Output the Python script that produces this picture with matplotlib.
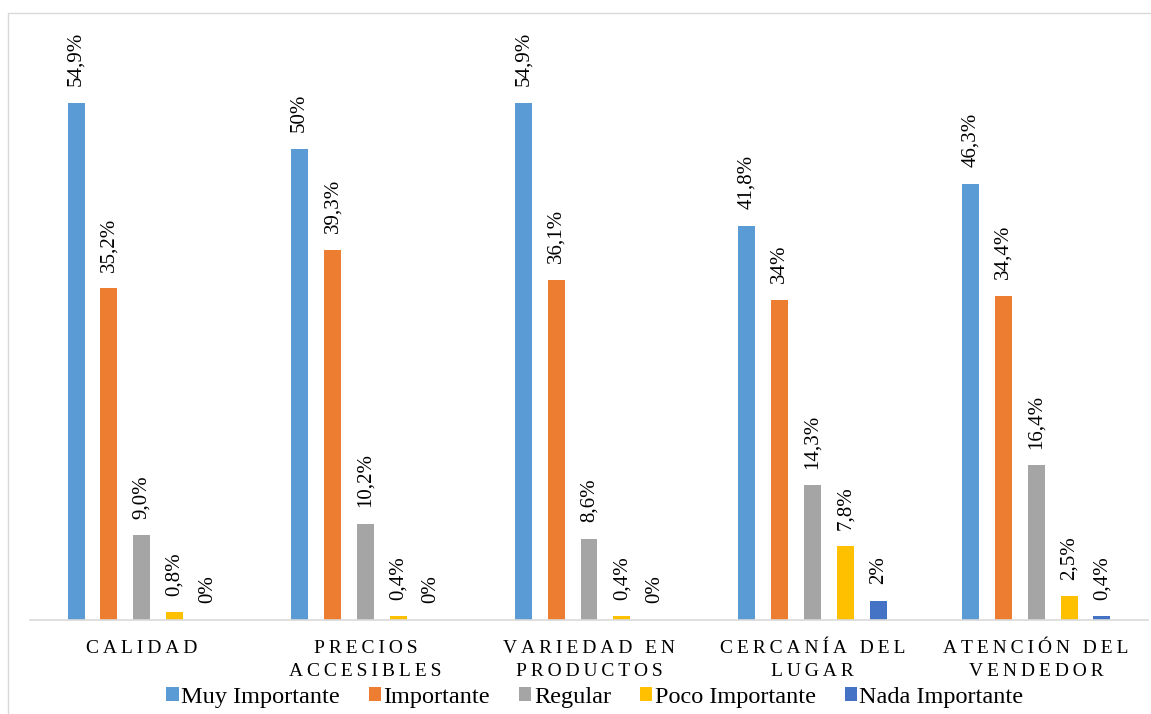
import numpy as np
import matplotlib.pyplot as plt
from matplotlib.patches import Rectangle

categories = ['CALIDAD', 'PRECIOS\nACCESIBLES', 'VARIEDAD EN\nPRODUCTOS', 'CERCANÍA DEL\nLUGAR', 'ATENCIÓN DEL\nVENDEDOR']
series = ['Muy Importante', 'Importante', 'Regular', 'Poco Importante', 'Nada Importante']
muy = [54.9, 50.0, 54.9, 41.8, 46.3]
imp = [35.2, 39.3, 36.1, 34.0, 34.4]
reg = [9.0, 10.2, 8.6, 14.3, 16.4]
poco = [0.8, 0.4, 0.4, 7.8, 2.5]
nada = [0.0, 0.0, 0.0, 2.0, 0.4]
muy_lbl = ['54,9%', '50%', '54,9%', '41,8%', '46,3%']
imp_lbl = ['35,2%', '39,3%', '36,1%', '34%', '34,4%']
reg_lbl = ['9,0%', '10,2%', '8,6%', '14,3%', '16,4%']
poco_lbl = ['0,8%', '0,4%', '0,4%', '7,8%', '2,5%']
nada_lbl = ['0%', '0%', '0%', '2%', '0,4%']
colors = ['#5B9BD5', '#ED7D31', '#A5A5A5', '#FFC000', '#4472C4']

values = [muy, imp, reg, poco, nada]
labels = [muy_lbl, imp_lbl, reg_lbl, poco_lbl, nada_lbl]

plt.rcParams['font.family'] = ['Liberation Serif', 'DejaVu Serif']

W, H = 1151, 714
fig = plt.figure(figsize=(W / 100, H / 100), dpi=100)
ax = fig.add_axes([30 / W, 1 - 620 / H, (1148 - 30) / W, (620 - 30) / H])

# light frame like the exported chart area
fig.patches.append(Rectangle((8 / W, -0.1), 1.2, 1 - 13 / H + 0.1, transform=fig.transFigure,
                             fill=False, edgecolor='#D9D9D9', linewidth=1))

x = np.arange(len(categories))
pitch = 0.147
width = 0.076
for i, (vals, lbls) in enumerate(zip(values, labels)):
    pos = x + (i - 2) * pitch
    ax.bar(pos, vals, width, color=colors[i], label=series[i])
    for px, v, t in zip(pos, vals, lbls):
        ax.annotate(t, (px, v), xytext=(0, 12), textcoords='offset points',
                    rotation=90, ha='center', va='bottom', fontsize=15)

ax.set_xlim(-0.5, 4.5)
ax.set_ylim(0, 62.6)

def spaced(s):
    return '\n'.join('\u2009'.join(line) for line in s.split('\n'))

ax.set_xticks(x)
ax.set_xticklabels([spaced(c) for c in categories], fontsize=14, linespacing=1.45)
ax.tick_params(axis='x', length=0, pad=14.5)
ax.set_yticks([])
for s in ['top', 'right', 'left']:
    ax.spines[s].set_visible(False)
ax.spines['bottom'].set_color('#D9D9D9')
ax.spines['bottom'].set_linewidth(1.2)

fig.legend(loc='center', bbox_to_anchor=(595 / W, 1 - 697 / H), ncol=5, frameon=False,
           prop={'family': 'Liberation Serif', 'size': 17.5},
           handlelength=0.5, handleheight=0.5, handletextpad=0.1,
           columnspacing=1.2, borderaxespad=0)

fig.savefig('out.png', dpi=100)
